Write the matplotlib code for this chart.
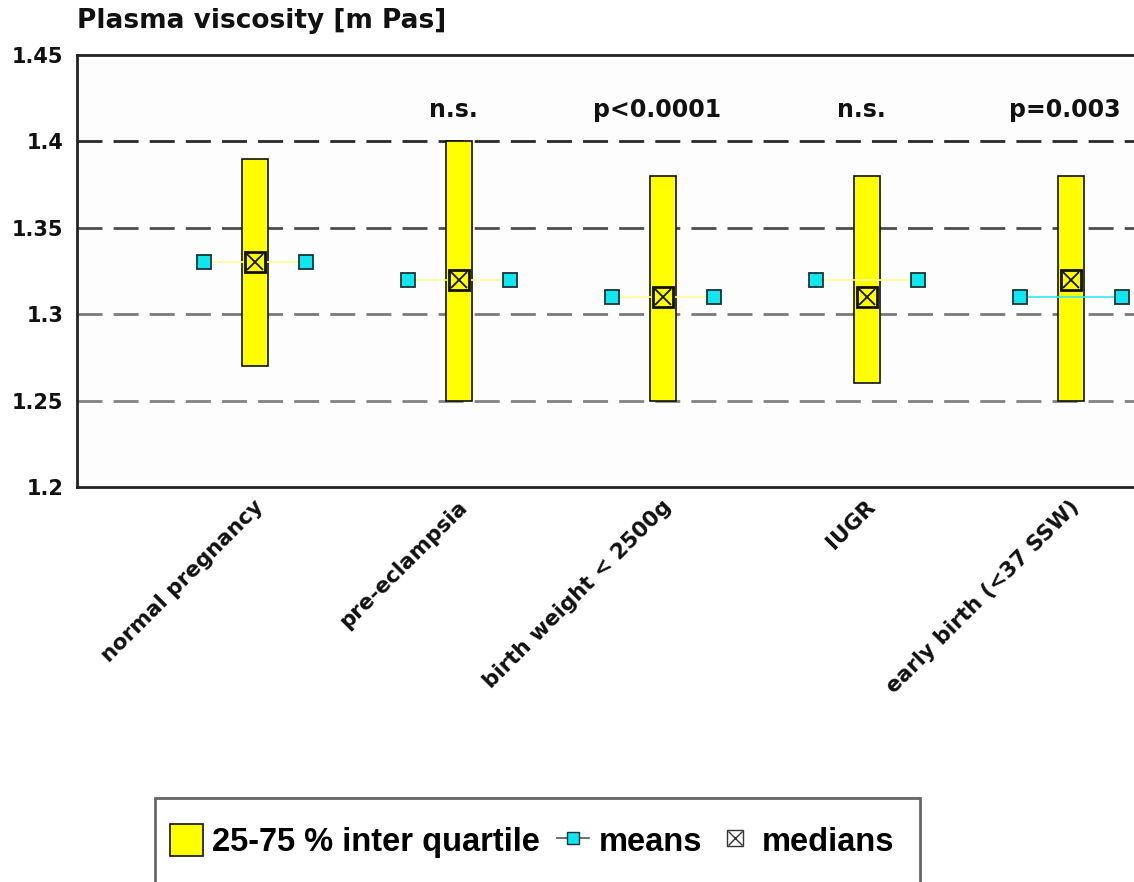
import numpy as np
import matplotlib
matplotlib.use("Agg")
import matplotlib.pyplot as plt
import matplotlib.transforms as mtransforms
from matplotlib.lines import Line2D
from matplotlib.patches import Patch, Rectangle
from matplotlib.legend_handler import HandlerTuple

# group statistics, plasma viscosity [mPa s]
categories = [
    "normal pregnancy",
    "pre-eclampsia",
    "birth weight < 2500g",
    "IUGR",
    "early birth (<37 SSW)",
]
q25 = [1.27, 1.25, 1.25, 1.26, 1.25]
q75 = [1.39, 1.40, 1.38, 1.38, 1.38]
medians = [1.33, 1.32, 1.31, 1.31, 1.32]
means = [1.33, 1.32, 1.31, 1.32, 1.31]
p_labels = ["", "n.s.", "p<0.0001", "n.s.", "p=0.003"]
y_ticks = [1.2, 1.25, 1.3, 1.35, 1.4, 1.45]
y_tick_labels = ["1.2", "1.25", "1.3", "1.35", "1.4", "1.45"]

W, H = 1134, 882
fig = plt.figure(figsize=(W / 100, H / 100), dpi=100)
plt.rcParams["font.family"] = ["DejaVu Sans"]

# plot area runs off the right edge of the canvas
left_px, right_px, top_px, bottom_px = 77, 1248, 55, 487
ax = fig.add_axes([left_px / W, 1 - bottom_px / H,
                   (right_px - left_px) / W, (bottom_px - top_px) / H])
ax.set_facecolor("#fdfdfd")

x = np.arange(len(categories))
spacing = 204.0
ax.set_xlim(-(255 - left_px) / spacing, (right_px - 255) / spacing)
ax.set_ylim(1.2, 1.45)

# dashed reference lines
grid_colors = {1.25: "#828282", 1.3: "#7a7a7a", 1.35: "#4d4d4d", 1.4: "#2a2a2a"}
for level, col in grid_colors.items():
    ax.axhline(level, color=col, lw=2.0, linestyle=(0, (9, 4)), zorder=1)

q25 = np.array(q25)
q75 = np.array(q75)
ax.bar(x, q75 - q25, bottom=q25, width=0.13, color="#ffff00",
       edgecolor="#111111", linewidth=1.2, zorder=2)

line_colors = ["#ffff99", "#ffff99", "#ffff99", "#ffff99", "#33e8f0"]
for xi, m, lc in zip(x, means, line_colors):
    ax.plot([xi - 0.25, xi + 0.25], [m, m], color=lc, lw=1.2, zorder=3)
    ax.plot([xi - 0.25, xi + 0.25], [m, m], linestyle="none", marker="s",
            markersize=10.5, markerfacecolor="#10e6f0",
            markeredgecolor="#153535", markeredgewidth=1.3, zorder=4)

ax.plot(x, medians, linestyle="none", marker="s", markersize=14.5,
        markerfacecolor="#ffff00", markeredgecolor="#111111",
        markeredgewidth=2.0, zorder=5)
ax.plot(x, medians, linestyle="none", marker="x", markersize=11,
        markeredgecolor="#111111", markeredgewidth=1.3, zorder=6)

for xi, lab in zip(x, p_labels):
    if lab:
        ax.text(xi - 0.03, 1.418, lab, ha="center", va="center",
                fontsize=17, fontweight="bold", color="#111111")

for side in ("left", "bottom", "top", "right"):
    ax.spines[side].set_color("#222222")
    ax.spines[side].set_linewidth(2.0)

ax.set_yticks(y_ticks, y_tick_labels)
ax.tick_params(axis="y", length=0, pad=10, labelsize=15)
for t in ax.get_yticklabels():
    t.set_fontweight("bold")
    t.set_color("#111111")

ax.set_xticks(x, categories, rotation=45, ha="right", va="center",
              rotation_mode="anchor")
ax.tick_params(axis="x", length=0, pad=12, labelsize=15.5)
shift = mtransforms.ScaledTranslation(5 / 100, 0, fig.dpi_scale_trans)
for t in ax.get_xticklabels():
    t.set_fontweight("bold")
    t.set_color("#111111")
    t.set_transform(t.get_transform() + shift)

fig.text(left_px / W, 1 - 21 / H, "Plasma viscosity [m Pas]", ha="left",
         va="center", fontsize=19, fontweight="bold", color="#111111")

# legend box is cut off at the bottom of the canvas
fig.patches.append(Rectangle((155 / W, -0.05), (920 - 155) / W,
                             0.05 + 1 - 798 / H, transform=fig.transFigure,
                             facecolor="white", edgecolor="#666666",
                             linewidth=2.0, zorder=0))

median_box = Line2D([0], [0], linestyle="none", marker="s", markersize=12,
                    markerfacecolor="white", markeredgecolor="#333333",
                    markeredgewidth=1.0)
median_cross = Line2D([0], [0], linestyle="none", marker="x", markersize=10,
                      markeredgecolor="#333333", markeredgewidth=1.0)
handles = [
    Patch(facecolor="#ffff00", edgecolor="#111111", linewidth=1.2),
    Line2D([0], [0], color="#555555", lw=1.2, marker="s", markersize=9,
           markerfacecolor="#10e6f0", markeredgecolor="#153535"),
    (median_box, median_cross),
]
labels = ["25-75 % inter quartile", "means", "medians"]
fig.legend(handles, labels, loc="center left",
           bbox_to_anchor=(170 / W, 1 - 841 / H), ncol=3, frameon=False,
           prop={"family": ["Liberation Sans", "DejaVu Sans"],
                 "weight": "bold", "size": 23.5},
           handler_map={tuple: HandlerTuple(ndivide=1, pad=0)},
           handlelength=1.0, handleheight=1.15, handletextpad=0.3,
           columnspacing=0.5, borderaxespad=0, borderpad=0)

fig.savefig("out.png", dpi=100)
